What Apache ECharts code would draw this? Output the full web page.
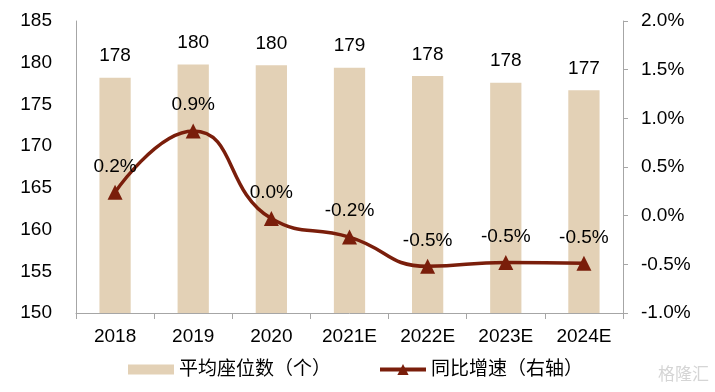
<!DOCTYPE html>
<html><head><meta charset="utf-8">
<script src="https://cdn.jsdelivr.net/npm/echarts@6/dist/echarts.min.js"></script>
<style>html,body{margin:0;padding:0;background:#fff}#c{width:715px;height:392px}</style>
</head><body><div id="c"></div>
<script>
const categories = ['2018','2019','2020','2021E','2022E','2023E','2024E'];
const seats = [178.2, 179.8, 179.7, 179.4, 178.4, 177.6, 176.7];
const growth = [0.24, 0.87, -0.03, -0.22, -0.52, -0.48, -0.49];
const leftTicks = [150, 185, 5];
const rightTicks = [-1, 2, 0.5];
const seriesNames = ['平均座位数（个）', '同比增速（右轴）'];

const font = 'Liberation Sans, Arial, Noto Sans CJK SC, sans-serif';
const pct = v => { const s = v.toFixed(1); return (s === '-0.0' ? '0.0' : s) + '%'; };
const chart = echarts.init(document.getElementById('c'));
chart.setOption({
  animation: false,
  textStyle: {fontFamily: font},
  grid: {left: 76, right: 92, top: 21, bottom: 79},
  legend: {
    bottom: 8, left: 123, itemGap: 47, itemWidth: 46, itemHeight: 14,
    symbolKeepAspect: true,
    textStyle: {fontSize: 19, color: '#000', fontFamily: font},
    data: [
      {name: seriesNames[0], icon: 'path://M0,0H46V10H0Z'},
      {name: seriesNames[1], lineStyle: {width: 4}}
    ]
  },
  xAxis: {
    type: 'category', data: categories,
    axisLine: {onZero: false, lineStyle: {color: '#A6A6A6'}},
    axisTick: {show: true, length: 6, lineStyle: {color: '#A6A6A6'}},
    axisLabel: {fontSize: 19, color: '#000', margin: 14}
  },
  yAxis: [
    {type: 'value', min: leftTicks[0], max: leftTicks[1], interval: leftTicks[2],
     axisLine: {show: true, lineStyle: {color: '#A6A6A6'}},
     axisTick: {show: false}, splitLine: {show: false},
     axisLabel: {fontSize: 19, color: '#000', margin: 24}},
    {type: 'value', min: rightTicks[0], max: rightTicks[1], interval: rightTicks[2],
     axisLine: {show: true, lineStyle: {color: '#A6A6A6'}},
     axisTick: {show: true, length: 5, lineStyle: {color: '#A6A6A6'}},
     splitLine: {show: false},
     axisLabel: {fontSize: 19, color: '#000', margin: 18, formatter: pct}}
  ],
  series: [
    {name: seriesNames[0], type: 'bar', data: seats, barWidth: '40%',
     itemStyle: {color: '#E3D1B6'},
     label: {show: true, position: 'top', distance: 12, fontSize: 19, color: '#000',
       formatter: p => Math.round(p.value)}},
    {name: seriesNames[1], type: 'line', yAxisIndex: 1, data: growth, smooth: true,
     symbol: 'triangle', symbolSize: 15,
     lineStyle: {color: '#7A1E0B', width: 3.5},
     itemStyle: {color: '#7A1E0B'},
     label: {show: true, position: 'top', distance: 9, fontSize: 19, color: '#000',
       formatter: p => pct(p.value)}}
  ],
  graphic: [{type: 'text', right: 6, bottom: 8,
    style: {text: '格隆汇', fontSize: 17, fill: '#D5D5D5', fontFamily: font}}]
});
</script></body></html>
